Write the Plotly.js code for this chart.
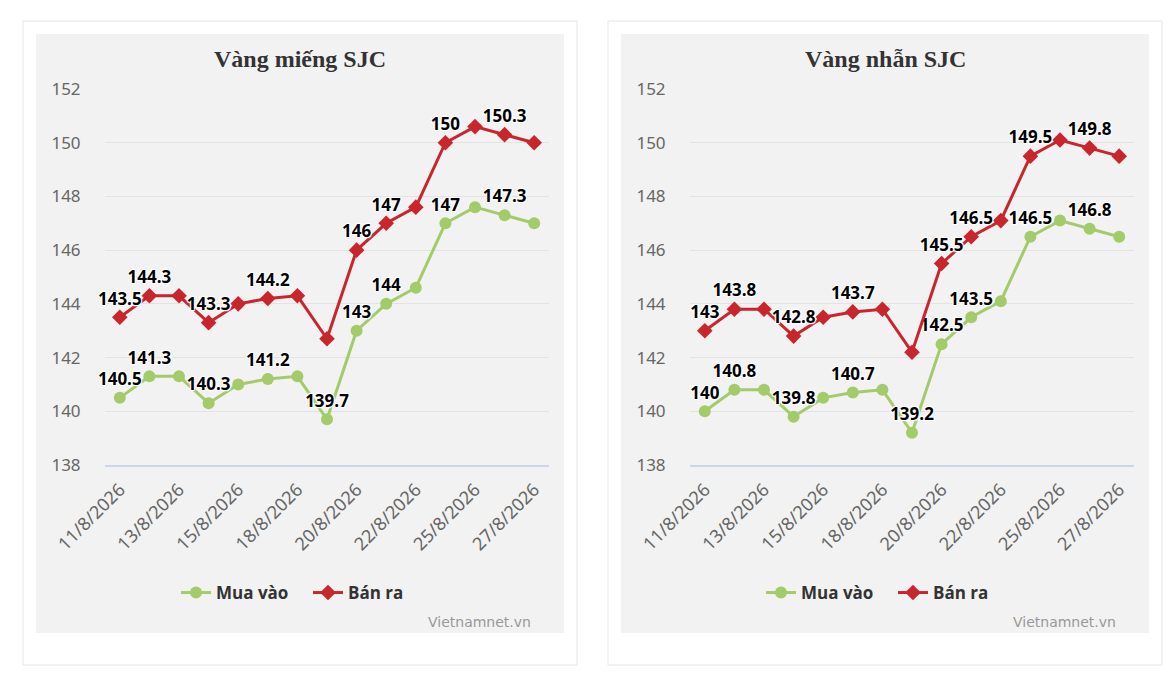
<!DOCTYPE html>
<html>
<head>
<meta charset="utf-8">
<script src="https://cdn.plot.ly/plotly-3.0.1.min.js"></script>
<style>html,body{margin:0;padding:0;background:#fff;}#chart{width:1168px;height:674px;}</style>
</head>
<body>
<div id="chart"></div>
<script>
// ---- data ----
const dates = ['11/8/2026','12/8/2026','13/8/2026','14/8/2026','15/8/2026','17/8/2026','18/8/2026','19/8/2026','20/8/2026','21/8/2026','22/8/2026','24/8/2026','25/8/2026','26/8/2026','27/8/2026'];
const tickDates = ['11/8/2026','13/8/2026','15/8/2026','18/8/2026','20/8/2026','22/8/2026','25/8/2026','27/8/2026'];

const mieng_mua = [140.5,141.3,141.3,140.3,141.0,141.2,141.3,139.7,143.0,144.0,144.6,147.0,147.6,147.3,147.0];
const mieng_ban = [143.5,144.3,144.3,143.3,144.0,144.2,144.3,142.7,146.0,147.0,147.6,150.0,150.6,150.3,150.0];
const nhan_mua  = [140.0,140.8,140.8,139.8,140.5,140.7,140.8,139.2,142.5,143.5,144.1,146.5,147.1,146.8,146.5];
const nhan_ban  = [143.0,143.8,143.8,142.8,143.5,143.7,143.8,142.2,145.5,146.5,147.1,149.5,150.1,149.8,149.5];

// indices whose data labels are visible in the original
const labelIdxMua = [0,1,3,5,7,8,9,11,13];
const labelIdxBan = [0,1,3,5,8,9,11,13];

const titles = ['Vàng miếng SJC','Vàng nhẫn SJC'];
const seriesNames = ['Mua vào','Bán ra'];
const source = 'Vietnamnet.vn';

// ---- helpers ----
const W = 1168, H = 674;
const px = x => x / W;
const py = y => 1 - y / H;
function labels(vals, idx) { return vals.map((v, i) => idx.includes(i) ? String(v) : ''); }

const GREEN = '#a3cb6a', RED = '#c8252c';
const labelFont = {family: 'Open Sans, DejaVu Sans, sans-serif', size: 17, color: '#000', weight: 700,
  shadow: '1px 1px 1px #fff, -1px -1px 1px #fff, 1px -1px 1px #fff, -1px 1px 1px #fff, 0 1px 1px #fff, 0 -1px 1px #fff'};

function mkTrace(vals, name, color, sym, idx, xa, ya, leg) {
  return {
    x: dates, y: vals, name: name, type: 'scatter', mode: 'lines+markers+text',
    xaxis: xa, yaxis: ya, legend: leg,
    line: {color: color, width: 3},
    marker: {color: color, size: 12, symbol: sym},
    text: labels(vals, idx), textposition: 'top center', textfont: labelFont,
    cliponaxis: false, hoverinfo: 'x+y'
  };
}

const data = [
  mkTrace(mieng_mua, seriesNames[0], GREEN, 'circle', labelIdxMua, 'x', 'y', 'legend'),
  mkTrace(mieng_ban, seriesNames[1], RED, 'diamond', labelIdxBan, 'x', 'y', 'legend'),
  mkTrace(nhan_mua, seriesNames[0], GREEN, 'circle', labelIdxMua, 'x2', 'y2', 'legend2'),
  mkTrace(nhan_ban, seriesNames[1], RED, 'diamond', labelIdxBan, 'x2', 'y2', 'legend2')
];

const tickFont = {family: 'Noto Sans, Open Sans, sans-serif', size: 18, color: '#666'};
function xAxis(dom, anchor) {
  return {domain: dom, anchor: anchor, type: 'category', range: [-0.5, dates.length - 0.5],
    tickvals: tickDates, ticktext: tickDates, tickangle: -45, tickfont: tickFont,
    ticks: 'outside', ticklen: 5, tickcolor: 'rgba(0,0,0,0)',
    showline: true, linecolor: '#ccd6eb', linewidth: 2, showgrid: false, zeroline: false, fixedrange: true};
}
function yAxis(anchor) {
  return {domain: [py(465), py(89)], anchor: anchor, range: [138, 152], dtick: 2, tick0: 138,
    tickfont: {family: 'Noto Sans, Open Sans, sans-serif', size: 17, color: '#666'},
    ticks: 'outside', ticklen: 20, tickcolor: 'rgba(0,0,0,0)',
    showgrid: true, gridcolor: '#e3e3e3', gridwidth: 1, zeroline: false, showline: false, fixedrange: true};
}

const panels = [
  {card: [23, 577], inner: [36, 564]},
  {card: [608, 1162], inner: [621, 1149]}
];
const shapes = [];
panels.forEach(p => {
  shapes.push({type: 'rect', xref: 'paper', yref: 'paper', layer: 'below',
    x0: px(p.card[0]), x1: px(p.card[1]), y0: py(665), y1: py(21),
    line: {color: '#e6e6e6', width: 1}, fillcolor: '#fff'});
  shapes.push({type: 'rect', xref: 'paper', yref: 'paper', layer: 'below',
    x0: px(p.inner[0]), x1: px(p.inner[1]), y0: py(633), y1: py(34),
    line: {width: 0}, fillcolor: '#f2f2f2'});
});

const centers = [300, 885];
const annotations = [];
titles.forEach((t, i) => {
  annotations.push({text: t, xref: 'paper', yref: 'paper', x: px(centers[i]), y: py(59),
    xanchor: 'center', yanchor: 'middle', showarrow: false,
    font: {family: 'Liberation Serif, Times New Roman, serif', size: 24, color: '#333', weight: 700}});
  annotations.push({text: source, xref: 'paper', yref: 'paper', x: px(panels[i].inner[1] - 31), y: py(622),
    xanchor: 'right', yanchor: 'middle', showarrow: false,
    font: {family: 'DejaVu Sans, sans-serif', size: 14, color: '#999'}});
});

const legendBase = {orientation: 'h', xanchor: 'left', yanchor: 'middle', y: py(593),
  entrywidth: 87, entrywidthmode: 'pixels',
  bgcolor: 'rgba(0,0,0,0)', font: {family: 'Open Sans, DejaVu Sans, sans-serif', size: 17, color: '#333', weight: 700},
  itemclick: false, itemdoubleclick: false};

const layout = {
  width: W, height: H, margin: {l: 0, r: 0, t: 0, b: 0},
  paper_bgcolor: '#fff', plot_bgcolor: 'rgba(0,0,0,0)',
  showlegend: true,
  xaxis: xAxis([px(105), px(549)], 'y'),
  yaxis: yAxis('x'),
  xaxis2: xAxis([px(690), px(1134)], 'y2'),
  yaxis2: yAxis('x2'),
  legend: Object.assign({x: px(176)}, legendBase),
  legend2: Object.assign({x: px(761)}, legendBase),
  shapes: shapes, annotations: annotations
};

Plotly.newPlot('chart', data, layout, {displayModeBar: false, staticPlot: true});
</script>
</body>
</html>
